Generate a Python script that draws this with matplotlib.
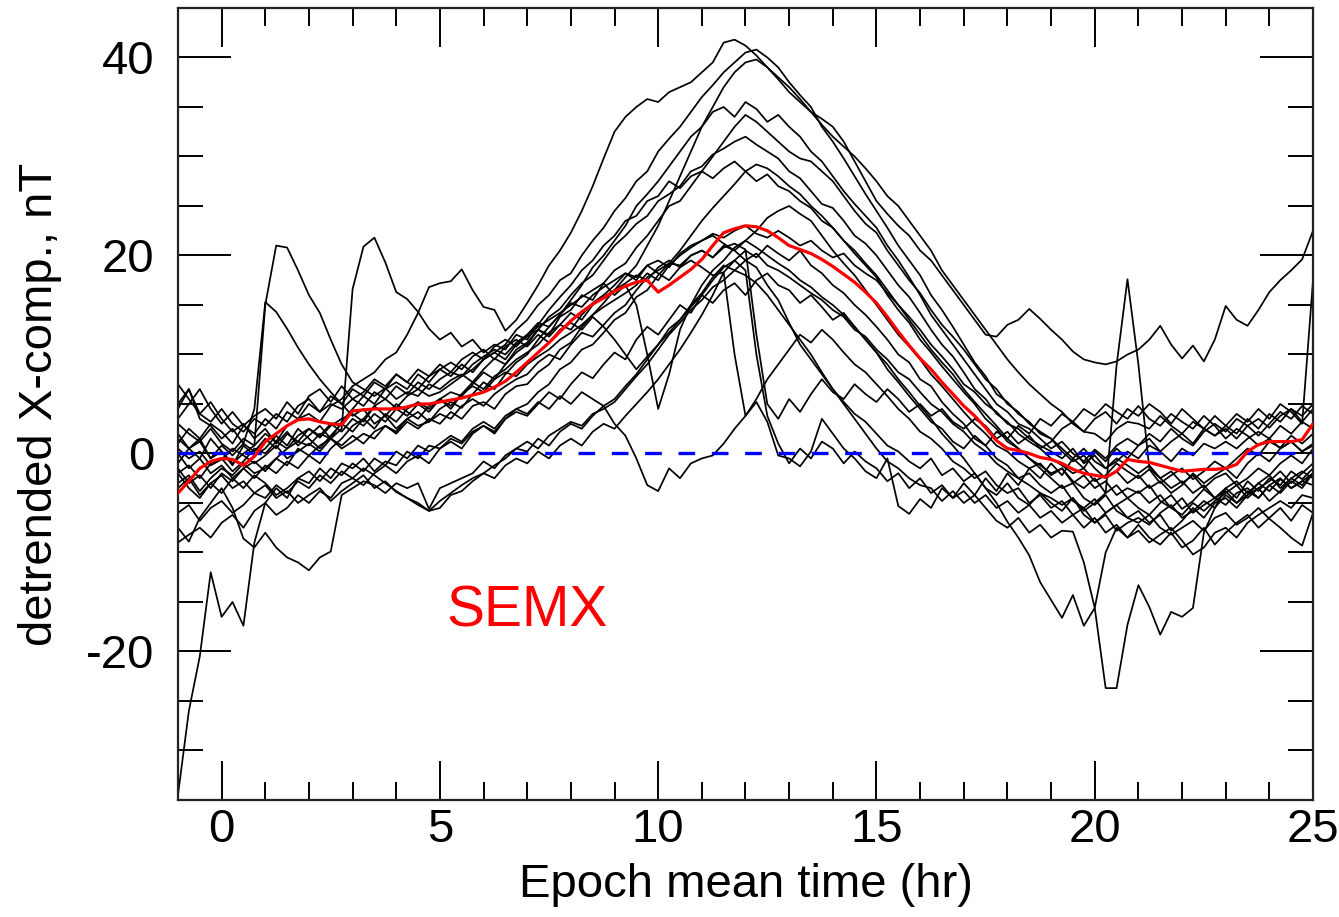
import numpy as np
import matplotlib.pyplot as plt

plt.rcParams['font.family'] = ['Liberation Sans', 'DejaVu Sans']
plt.rcParams['axes.unicode_minus'] = False

# epoch time grid, 0.25 hr steps from -1 to 25
hours = np.arange(105) * 0.25 - 1.0

# individual storm traces (nT), rows of 2 hours each
trace_01 = [-34.5, -26.0, -20.5, -12.0, -16.5, -15.0, -17.4, -9.0,
            -5.0, -3.5, -4.5, -2.5, -3.0, -1.5, -2.5, -1.0,
            -1.5, -0.5, -1.8, -0.8, -1.2, 0.2, -0.5, 0.8,
            0.5, 1.5, 1.0, 2.2, 2.8, 2.0, 3.5, 4.2,
            3.8, 5.0, 6.2, 5.5, 7.0, 8.2, 7.6, 9.0,
            10.2, 9.5, 11.5, 12.8, 12.0, 13.5, 15.0, 14.2,
            16.0, 17.5, 18.8, 19.5, 20.5, 19.8, 21.0, 20.2,
            19.5, 20.5, 19.0, 18.2, 17.0, 16.2, 15.0, 14.0,
            12.8, 11.5, 10.0, 9.2, 7.5, 6.8, 5.2, 4.0,
            3.0, 1.5, 0.8, -0.5, -1.2, -2.5, -2.0, -3.2,
            -4.0, -3.2, -4.8, -5.5, -4.6, -6.0, -5.2, -4.5,
            -5.5, -6.2, -5.0, -4.2, -5.6, -4.8, -3.6, -4.5,
            -3.8, -5.0, -4.2, -3.0, -3.8, -2.6, -3.5, -2.8,
            -3.2]
trace_02 = [1.5, 0.5, 1.2, -0.5, 0.2, -1.0, 0.0, 0.8,
            15.0, 21.0, 20.8, 18.5, 16.0, 14.2, 11.5, 9.0,
            7.2, 6.5, 5.8, 6.6, 5.5, 6.2, 5.8, 7.0,
            6.5, 7.4, 8.0, 7.2, 8.5, 9.6, 9.0, 10.5,
            11.2, 12.5, 13.8, 14.6, 16.0, 17.2, 18.0, 19.5,
            21.0, 22.0, 23.2, 24.0, 25.5, 26.2, 27.0, 28.5,
            29.0, 30.2, 30.8, 31.5, 32.0, 31.2, 30.5, 29.8,
            28.5, 27.8, 26.5, 25.2, 24.8, 23.5, 22.0, 21.2,
            20.0, 18.5, 17.0, 15.8, 14.2, 12.5, 11.0, 9.8,
            8.2, 6.5, 5.5, 4.0, 3.2, 2.0, 1.2, 0.5,
            -0.5, -1.2, -2.0, -1.5, -2.8, -2.2, -1.0, -1.8,
            -2.5, -1.6, -3.0, -2.2, -1.5, -2.6, -1.8, -0.8,
            -1.5, -0.5, 0.5, -0.2, 1.2, 0.6, 1.8, 1.0,
            2.0]
trace_03 = [4.5, 6.5, 3.5, 2.8, 1.5, 2.5, 1.0, 4.5,
            15.3, 14.3, 12.6, 10.7, 9.0, 7.5, 6.2, 5.0,
            3.8, 4.5, 3.0, 3.8, 2.5, 3.5, 4.2, 3.2,
            4.5, 5.2, 4.6, 6.0, 7.2, 6.5, 8.0, 9.2,
            10.0, 11.5, 12.8, 14.0, 15.5, 17.0, 18.8, 20.0,
            21.5, 23.0, 25.0, 26.2, 27.5, 29.0, 30.5, 32.0,
            33.0, 34.5, 35.0, 34.0, 35.5, 34.8, 33.5, 34.2,
            33.0, 32.0, 30.5, 29.5, 28.0, 26.5, 25.2, 24.0,
            22.8, 21.0, 19.5, 17.8, 16.0, 14.0, 12.5, 11.0,
            9.5, 8.0, 6.5, 5.0, 4.2, 3.0, 2.5, 1.5,
            0.5, 1.2, 0.0, -0.8, 0.4, -0.5, 0.8, 1.5,
            0.8, 2.0, 1.2, 2.5, 1.5, 0.8, 2.2, 3.0,
            2.2, 3.5, 2.8, 1.8, 3.0, 4.2, 3.5, 4.8,
            4.0]
trace_04 = [3.0, 2.0, 1.2, 2.5, 1.0, 0.2, 1.5, 0.8,
            2.0, 1.2, 2.8, 3.5, 4.0, 3.2, 4.8, 5.5,
            6.8, 7.5, 8.2, 9.5, 10.2, 12.0, 14.2, 16.8,
            17.2, 17.4, 18.6, 16.5, 14.8, 14.5, 12.4, 13.5,
            15.2, 17.0, 19.0, 20.5, 22.3, 24.5, 27.0, 29.8,
            32.5, 34.0, 35.0, 35.8, 35.5, 36.5, 37.0, 37.5,
            38.5, 39.5, 41.5, 41.8, 41.2, 40.2, 39.0, 37.8,
            36.5, 35.5, 34.5, 33.8, 33.0, 31.5, 29.5, 27.5,
            25.5, 24.2, 23.0, 22.0, 20.5, 19.5, 18.0, 16.5,
            15.0, 13.5, 12.0, 11.8, 13.0, 13.5, 14.6, 13.6,
            12.5, 11.5, 10.3, 9.5, 9.2, 9.0, 9.3, 10.0,
            10.5, 11.5, 12.9, 11.0, 9.6, 10.9, 9.3, 11.5,
            14.9, 13.5, 12.9, 14.5, 16.3, 17.5, 18.5, 19.6,
            22.5]
trace_05 = [-2.0, -1.2, -2.5, -1.0, -0.5, -1.8, -0.8, 0.5,
            0.0, 1.2, 0.5, 1.8, 2.5, 1.6, 2.8, 3.5,
            4.0, 3.2, 4.8, 5.5, 4.6, 5.8, 6.5, 5.8,
            6.2, 7.0, 7.8, 8.5, 9.5, 10.2, 11.0, 12.5,
            13.5, 15.0, 16.0, 17.5, 18.2, 20.0, 21.5, 22.8,
            24.5, 25.8, 27.5, 28.5, 30.5, 31.8, 33.0, 34.5,
            36.0, 37.2, 38.5, 39.5, 40.5, 40.8, 40.0, 39.0,
            37.5, 36.2, 35.0, 33.0, 31.5, 29.8, 28.0, 26.2,
            24.5, 22.8, 21.0, 19.5, 18.0, 16.0, 14.5, 12.8,
            11.0, 9.2, 7.8, 6.0, 5.2, 4.0, 3.2, 2.0,
            1.5, 0.2, -0.8, -0.2, -1.5, -2.5, -1.8, -3.0,
            -2.2, -3.5, -2.8, -4.0, -3.2, -2.0, -3.0, -2.2,
            -1.5, -2.5, -1.0, 0.0, -0.8, 0.5, 1.2, 0.2,
            1.0]
trace_06 = [0.5, -0.5, 0.2, -1.2, -0.6, 0.5, -0.2, -1.0,
            -0.2, 0.8, -0.5, 0.2, 1.0, 0.2, 1.5, 0.8,
            1.8, 1.0, 2.2, 2.8, 2.0, 3.2, 2.5, 3.5,
            3.0, 4.2, 3.5, 4.8, 5.2, 4.5, 6.0, 6.8,
            7.0, 8.2, 9.0, 10.5, 11.2, 12.8, 14.0, 15.2,
            16.5, 17.8, 19.0, 21.0, 23.0, 25.5, 28.0, 30.5,
            33.0, 35.0, 37.0, 38.5, 39.5, 39.8, 39.0, 38.0,
            37.0, 35.8, 34.5, 33.2, 32.0, 31.0, 30.0, 28.8,
            27.5, 26.0, 25.0, 23.5, 22.0, 20.5, 18.5, 17.0,
            15.5, 14.0, 12.5, 11.0, 9.5, 8.2, 7.0, 6.0,
            5.0, 4.2, 3.0, 2.2, 2.0, 1.2, 2.5, 3.2,
            3.0, 2.5, 3.8, 2.8, 2.0, 3.2, 2.5, 1.8,
            2.5, 1.5, 2.8, 3.5, 2.6, 3.8, 4.5, 3.2,
            4.5]
trace_07 = [-1.5, -3.0, -2.2, -3.5, -2.0, -2.8, -1.5, -2.5,
            -1.2, -2.0, -0.8, -1.5, -0.2, -1.0, 0.5, 1.5,
            2.8, 3.5, 2.5, 4.0, 3.2, 4.5, 5.2, 4.5,
            5.5, 6.2, 5.8, 7.0, 8.2, 7.5, 9.0, 10.2,
            11.0, 12.5, 12.0, 13.8, 14.5, 16.0, 15.5, 17.2,
            18.5, 19.2, 20.8, 22.0, 23.5, 25.0, 25.5, 27.0,
            28.5, 30.0, 31.5, 33.0, 34.2, 33.5, 32.5, 31.5,
            30.5, 29.8, 29.5, 28.5, 27.5, 26.0, 24.5, 23.2,
            22.3, 20.5, 19.0, 17.5, 16.2, 14.5, 13.0, 11.8,
            10.5, 9.0, 7.5, 6.5, 5.0, 4.2, 3.0, 2.2,
            1.5, 0.5, -0.5, 0.5, -0.8, -1.5, -0.5, -1.2,
            -2.0, -1.2, -2.5, -1.8, -3.0, -2.2, -3.5, -2.5,
            -2.0, -3.2, -2.5, -1.5, -2.2, -1.0, -0.2, -1.0,
            0.5]
trace_08 = [-9.0, -8.2, -7.5, -8.5, -7.0, -6.2, -7.5, -5.8,
            -5.0, -6.2, -5.5, -4.2, -5.0, -3.8, -4.5, -3.0,
            -2.5, -3.2, -2.0, -1.2, -2.0, -0.8, -0.2, -1.0,
            0.5, 1.2, 0.5, 2.0, 2.8, 2.2, 3.5, 4.5,
            5.0, 6.2, 7.0, 8.5, 9.2, 10.5, 11.0, 12.2,
            13.5, 14.2, 15.8, 16.5, 18.0, 19.2, 20.5, 22.0,
            23.5, 24.8, 26.0, 27.2, 28.5, 29.2, 28.8, 28.0,
            27.0, 26.2, 25.0, 24.0, 22.8, 21.5, 20.5, 19.2,
            18.0, 16.5, 15.0, 13.5, 12.0, 10.5, 9.2, 8.0,
            6.5, 5.2, 4.0, 2.8, 1.5, 0.5, -0.5, -1.5,
            -2.5, -3.5, -3.0, -4.5, -5.2, -4.2, -5.8, -6.5,
            -7.0, -6.2, -7.5, -8.2, -7.5, -6.8, -7.8, -6.5,
            -6.0, -7.2, -6.5, -5.5, -6.6, -7.5, -8.5, -9.3,
            -6.0]
trace_09 = [5.0, 6.5, 4.0, 3.2, 4.5, 3.0, 2.2, 3.5,
            2.8, 4.0, 3.2, 4.8, 5.5, 4.2, 5.0, 4.5,
            5.5, 4.8, 6.2, 5.5, 6.8, 6.0, 7.2, 6.5,
            7.5, 8.2, 7.8, 9.0, 9.8, 10.5, 10.0, 11.2,
            12.0, 13.2, 12.8, 14.0, 15.2, 14.8, 16.0, 16.8,
            17.5, 18.2, 17.8, 19.0, 19.5, 18.8, 20.2, 21.0,
            21.5, 22.2, 21.8, 22.5, 23.0, 22.2, 21.8, 22.5,
            21.8, 21.0, 21.5, 20.5, 19.8, 20.2, 19.0, 18.2,
            17.5, 16.2, 15.0, 13.8, 12.5, 11.0, 9.8, 8.5,
            7.0, 6.2, 5.0, 4.2, 3.0, 2.5, 1.5, 0.8,
            0.2, -0.5, 0.5, -1.0, -0.2, -1.5, -0.8, 0.2,
            -0.5, 0.8, 0.2, -0.8, 0.5, -0.2, 1.0, 0.5,
            1.2, 0.5, 1.5, 2.2, 1.5, 2.8, 2.0, 3.2,
            2.5]
trace_10 = [-3.0, -2.2, -3.8, -2.5, -1.5, -2.2, -1.0, -2.0,
            -1.5, -0.5, -1.2, 0.5, -0.2, 0.8, 1.5, 0.5,
            1.2, 2.0, 1.5, 2.8, 2.2, 3.5, 2.8, 3.2,
            4.0, 3.5, 4.8, 5.5, 4.8, 6.0, 6.8, 7.5,
            8.0, 9.2, 10.0, 9.5, 11.0, 12.2, 11.8, 13.0,
            14.2, 15.0, 16.5, 17.8, 18.5, 19.2, 19.0, 20.0,
            20.5, 19.8, 21.0, 20.5, 19.5, 20.2, 19.0, 18.5,
            17.8, 17.0, 16.2, 15.5, 14.5, 13.8, 12.5, 11.8,
            10.5, 9.5, 8.2, 7.5, 6.2, 5.0, 4.2, 3.0,
            2.2, 1.0, 0.2, -1.0, -1.8, -2.5, -3.2, -4.0,
            -4.5, -5.2, -4.5, -5.8, -5.0, -4.0, 8.9, 17.6,
            9.0, -1.5, -2.5, -3.5, -2.8, -4.0, -3.2, -4.5,
            -3.5, -2.8, -4.0, -3.0, -2.2, -3.5, -2.5, -1.8,
            -2.5]
trace_11 = [2.0, 0.5, 1.5, -0.5, 0.8, -0.2, 1.0, 0.2,
            1.5, 0.5, 2.0, 1.2, 2.5, 1.8, 3.0, 2.2,
            3.5, 2.8, 4.0, 3.2, 4.5, 3.8, 5.0, 4.2,
            5.5, 4.8, 6.0, 6.8, 6.2, 7.5, 8.2, 7.8,
            9.0, 9.8, 10.5, 11.5, 12.2, 13.0, 14.0, 14.8,
            15.5, 16.2, 17.0, 18.2, 17.5, 19.0, 20.0, 20.8,
            21.5, 22.0, 21.2, 20.5, 21.5, 20.8, 20.0, 19.2,
            18.5, 17.5, 16.8, 15.8, 15.0, 14.0, 12.8, 11.5,
            10.2, 9.0, 7.5, 6.2, 4.8, 3.5, 2.0, 0.8,
            -0.5, -2.0, -3.5, -5.0, -6.9, -8.5, -10.3, -13.0,
            -14.8, -16.6, -14.3, -17.4, -15.6, -23.7, -23.7, -17.3,
            -13.3, -15.5, -18.3, -16.0, -16.5, -15.6, -8.0, -5.5,
            -3.5, -4.5, -2.8, -3.8, -2.5, -3.2, -1.8, -2.6,
            -1.5]
trace_12 = [-6.0, -5.2, -6.8, -5.5, -4.8, -6.0, -5.2, -4.0,
            -4.5, -3.2, -4.0, -2.8, -3.5, -2.2, -3.0, -1.8,
            -2.5, -1.5, -2.2, -3.0, -3.8, -4.5, -5.2, -5.8,
            -4.8, -4.0, -3.2, -2.5, -2.0, -1.2, -0.5, 0.5,
            1.2, 0.5, 1.8, 2.5, 3.2, 2.8, 4.0, 4.5,
            5.2, 6.5, 7.8, 9.0, 10.5, 12.0, 13.2, 14.5,
            15.5, 16.8, 17.5, 18.5, 18.0, 17.2, 16.0, 14.5,
            13.0, 11.5, 10.0, 8.2, 6.5, 5.0, 3.5, 2.0,
            0.5, -0.8, -1.5, -2.5, -3.2, -3.5, -4.8, -3.8,
            -5.0, -4.2, -5.5, -6.8, -7.5, -6.5, -8.0, -7.2,
            -8.5, -7.8, -7.9, -11.0, -15.6, -10.0, -7.5, -8.5,
            -7.2, -8.5, -9.2, -8.0, -9.5, -8.8, -7.5, -9.2,
            -8.0, -7.0, -6.2, -7.5, -6.5, -5.5, -6.8, -5.2,
            -6.0]
trace_13 = [0.0, -1.5, -0.5, -2.0, -1.2, -2.5, -1.5, -0.8,
            -1.8, -0.5, 0.5, 1.2, 0.8, 2.0, 1.5, 2.5,
            16.6, 20.9, 21.8, 19.3, 16.3, 15.6, 14.3, 12.6,
            11.5, 12.2, 10.8, 11.5, 10.2, 11.0, 10.5, 12.0,
            11.5, 13.0, 14.5, 15.8, 17.0, 18.5, 19.5, 21.0,
            22.0, 23.5, 24.0, 25.5, 26.0, 27.5, 26.8, 28.0,
            28.5, 27.8, 28.8, 29.5, 28.5, 27.5, 28.2, 27.0,
            26.5, 25.5, 24.8, 23.5, 22.8, 21.5, 20.2, 19.0,
            17.8, 16.0, 14.5, 13.2, 11.5, 10.2, 8.8, 7.5,
            6.2, 5.0, 3.5, 2.5, 1.2, 0.5, -0.5, -1.2,
            -2.0, -1.5, -3.0, -2.2, -3.5, -2.8, -4.2, -3.5,
            -4.0, -3.2, -4.8, -5.5, -4.5, -6.0, -5.2, -4.5,
            -5.2, -4.0, -3.5, -4.5, -3.2, -4.0, -2.8, -3.5,
            -2.0]
trace_14 = [1.0, 2.5, 1.5, 3.0, 2.2, 1.0, 2.8, 2.0,
            3.5, 2.5, 4.2, 3.5, 5.0, 4.2, 5.8, 5.0,
            6.5, 5.8, 7.2, 6.5, 8.0, 7.2, 8.5, 7.8,
            9.0, 8.2, 9.5, 10.2, 9.5, 10.8, 11.5, 10.8,
            12.0, 12.8, 13.5, 14.2, 15.0, 15.8, 16.5, 17.2,
            16.0, 17.0, 15.0, 10.0, 4.5, 8.0, 12.5, 15.0,
            17.0, 18.5, 19.5, 20.8, 21.5, 22.5, 23.8, 24.5,
            25.0, 24.2, 23.5, 22.0, 20.5, 19.2, 18.0, 16.5,
            15.0, 13.5, 12.0, 10.8, 9.5, 8.0, 6.8, 5.5,
            4.2, 3.0, 2.0, 0.8, 0.2, -0.8, -1.5, -1.0,
            -2.2, -1.5, -2.8, -3.5, -2.5, -4.0, -3.2, -4.5,
            -3.8, -5.0, -4.2, -5.5, -6.2, -5.0, -5.8, -4.8,
            -4.0, -3.2, -4.5, -3.5, -2.8, -1.8, -3.0, -2.0,
            -1.0]
trace_15 = [-2.0, -3.5, -4.5, -3.0, -4.0, -2.5, -3.5, -2.2,
            -3.0, -4.2, -3.5, -2.5, -1.8, -2.8, -1.5, -2.2,
            -1.0, -1.8, -0.5, -1.2, 0.2, -0.5, 0.8, 0.2,
            1.0, 1.8, 1.2, 2.5, 3.2, 2.5, 3.8, 4.5,
            4.0, 5.2, 4.5, 5.8, 5.0, 6.2, 5.5, 4.8,
            3.0, 1.8, -0.5, -3.2, -3.8, -1.5, -2.5, -1.0,
            -0.5, -0.2, 1.0, 2.5, 3.8, 5.2, 3.2, -0.2,
            -0.5, -1.3, 0.2, 3.5, 2.0, 0.5, -0.5, -1.8,
            -2.5, -0.5, -5.3, -6.1, -4.6, -5.5, -3.5, -4.5,
            -3.0, -4.2, -2.5, -3.8, -2.0, -3.2, -1.5, -2.5,
            -1.0, -2.2, -0.5, -1.5, 0.2, -0.8, 0.5, -0.5,
            0.8, 1.5, 0.2, 1.2, 2.0, 1.0, 2.5, 1.8,
            2.8, 2.0, 3.5, 2.5, 4.0, 3.2, 4.5, 3.8,
            5.0]
trace_16 = [-7.5, -8.9, -6.5, -5.0, -3.5, -5.5, -8.6, -9.5,
            -8.0, -9.5, -10.5, -11.0, -11.8, -10.5, -9.9, -4.2,
            -3.5, -2.8, -3.2, -4.0, -3.0, -3.5, -3.0, -5.6,
            -3.5, -3.0, -2.5, -2.0, -0.8, -1.5, -0.2, 0.5,
            0.2, 1.5, 0.8, 2.2, 3.0, 2.5, 3.8, 4.8,
            5.5, 6.8, 8.0, 9.5, 11.0, 12.2, 13.5, 15.0,
            16.2, 17.8, 19.0, 18.5, 19.5, 18.8, 17.0, 15.5,
            13.2, 11.0, 9.5, 8.0, 6.5, 5.2, 4.0, 3.2,
            2.0, 0.8, 0.2, -0.8, -1.5, -0.5, -2.2, -1.5,
            -2.8, -2.0, -3.5, -4.2, -3.0, -4.5, -5.2, -4.0,
            -5.0, -5.8, -4.5, -6.2, -7.0, -6.0, -5.2, -6.5,
            -5.8, -7.0, -6.2, -7.8, -6.8, -5.5, -6.5, -5.0,
            -4.5, -5.5, -4.2, -3.5, -4.8, -3.8, -2.5, -3.2,
            -2.0]
trace_17 = [-3.5, -2.5, -4.2, -3.0, -2.2, -3.5, -2.8, -4.0,
            -3.2, -4.5, -3.8, -5.0, -4.2, -3.5, -4.8, -3.8,
            -3.0, -2.2, -3.5, -2.8, -3.9, -4.5, -5.0, -5.8,
            -5.5, -4.2, -3.8, -2.8, -2.0, -2.5, -1.2, -0.5,
            -1.0, 0.2, -0.5, 0.8, 1.5, 0.8, 2.2, 3.0,
            2.5, 3.8, 5.0, 6.2, 7.5, 9.0, 10.5, 12.2,
            14.0, 16.0, 18.3, 19.5, 18.5, 10.0, 3.8, 1.0,
            -1.0, 0.5, -0.5, 1.2, 0.5, -1.0, 0.2, -0.8,
            -1.5, -2.8, -2.0, -3.5, -2.5, -4.0, -3.2, -4.5,
            -3.8, -5.0, -4.2, -5.5, -4.8, -6.0, -5.2, -6.5,
            -5.8, -7.0, -6.2, -7.5, -6.5, -8.0, -7.2, -8.5,
            -7.8, -9.0, -8.2, -7.5, -8.8, -10.2, -9.5, -8.0,
            -7.5, -8.5, -7.0, -6.2, -5.5, -4.8, -5.5, -4.2,
            -4.5]
trace_18 = [3.5, 5.0, 6.5, 4.5, 3.0, 4.2, 2.8, 3.8,
            4.5, 3.5, 5.2, 4.0, 5.8, 6.5, 5.2, 6.8,
            5.5, 6.2, 7.5, 6.8, 8.0, 7.2, 6.5, 7.8,
            8.5, 7.8, 9.0, 8.2, 9.5, 10.2, 9.5, 11.0,
            11.8, 12.5, 11.8, 13.0, 14.2, 13.5, 15.0, 15.8,
            16.5, 17.2, 18.0, 17.5, 18.8, 19.5, 18.8, 20.0,
            20.5, 19.8, 20.8, 21.2, 20.6, 12.0, 5.0, 3.5,
            5.5, 4.2, 6.0, 7.5, 6.2, 5.5, 7.0, 6.0,
            5.2, 6.5, 5.5, 4.2, 5.0, 3.8, 4.5, 3.2,
            2.5, 3.5, 2.8, 1.5, 2.2, 1.0, 1.8, 0.5,
            1.2, 2.5, 3.2, 2.2, 3.5, 4.2, 3.0, 4.5,
            3.8, 5.0, 4.2, 3.0, 4.5, 3.5, 2.5, 3.8,
            2.8, 4.0, 3.2, 4.5, 3.5, 5.0, 4.2, 3.0,
            17.5]
trace_19 = [-1.0, 0.5, -0.5, 1.5, 0.2, -1.2, 0.8, -0.2,
            0.5, 1.8, 0.8, 2.5, 1.5, 0.5, 1.8, 3.0,
            2.2, 3.5, 4.8, 3.8, 5.0, 4.2, 3.5, 4.8,
            5.5, 4.5, 6.0, 7.2, 6.5, 7.8, 8.5, 9.5,
            10.2, 11.0, 12.2, 13.0, 12.5, 14.0, 15.2, 16.0,
            17.0, 18.2, 17.5, 19.0, 18.2, 17.5, 18.8, 19.5,
            18.8, 18.0, 18.3, 10.0, 3.8, 5.5, 7.5, 9.0,
            10.5, 12.0, 11.2, 12.5, 11.5, 10.2, 9.0, 8.2,
            7.0, 5.8, 4.5, 3.5, 2.2, 1.5, 0.5, -0.8,
            -1.5, -2.5, -1.8, -3.2, -4.0, -3.5, -5.0, -4.2,
            -5.5, -4.8, -6.2, -5.5, -7.0, -6.2, -7.8, -7.0,
            -6.5, -7.2, -6.0, -5.2, -6.5, -5.8, -4.8, -5.5,
            -4.2, -5.0, -3.8, -4.5, -3.2, -2.5, -3.5, -2.8,
            -2.0]
trace_20 = [7.0, 5.5, 4.0, 5.2, 3.5, 2.2, 3.0, 1.5,
            2.5, 1.0, 2.2, 0.8, 1.8, 2.8, 1.5, 3.2,
            4.5, 5.8, 5.0, 6.5, 7.2, 6.5, 8.0, 7.2,
            8.5, 9.2, 8.5, 9.8, 10.5, 9.5, 10.8, 11.5,
            10.8, 12.0, 11.2, 12.5, 13.2, 12.5, 13.8, 12.8,
            11.5, 10.0, 8.5, 9.8, 11.0, 12.6, 13.5, 14.8,
            16.0, 15.2, 16.5, 17.2, 16.0, 17.5, 18.2, 17.0,
            16.5, 15.2, 16.0, 14.8, 13.5, 14.2, 12.8, 11.5,
            10.2, 8.5, 7.2, 5.8, 4.5, 3.2, 2.5, 1.2,
            0.5, 1.8, 0.8, 2.2, 1.5, 2.8, 2.0, 3.5,
            2.8, 4.0, 3.2, 4.5, 3.8, 5.0, 4.2, 3.5,
            4.8, 3.5, 2.8, 4.0, 3.2, 2.5, 3.8, 2.8,
            1.5, 2.5, 1.8, 0.8, 1.5, 0.5, 1.2, 0.2,
            0.8]

# superposed epoch mean (red curve)
mean_trace = [-4.0, -2.8, -1.5, -0.8, -0.5, -0.6, -1.2, -0.3,
              1.2, 2.0, 2.8, 3.4, 3.5, 3.2, 3.0, 2.9,
              4.3, 4.4, 4.5, 4.5, 4.5, 4.7, 5.0, 5.0,
              5.2, 5.4, 5.6, 5.9, 6.2, 6.7, 7.3, 8.2,
              9.2, 10.2, 11.2, 12.3, 13.4, 14.3, 15.1, 15.7,
              16.4, 16.9, 17.3, 17.5, 16.3, 17.0, 17.8, 18.6,
              19.6, 21.0, 22.3, 22.7, 23.0, 22.9, 22.5, 21.8,
              21.0, 20.6, 20.2, 19.6, 18.9, 18.1, 17.3, 16.3,
              15.2, 13.8, 12.3, 10.9, 9.6, 8.5, 7.2, 6.0,
              4.8, 3.8, 2.6, 1.3, 0.5, 0.3, 0.0, -0.4,
              -0.6, -1.0, -1.6, -2.0, -2.2, -2.4, -1.8, -0.6,
              -0.8, -0.9, -1.2, -1.5, -1.8, -1.7, -1.6, -1.6,
              -1.5, -1.1, 0.2, 0.9, 1.2, 1.2, 1.2, 1.4,
              3.0]

traces = [trace_01, trace_02, trace_03, trace_04, trace_05, trace_06, trace_07,
          trace_08, trace_09, trace_10, trace_11, trace_12, trace_13, trace_14,
          trace_15, trace_16, trace_17, trace_18, trace_19, trace_20]

x_ticks = [0, 5, 10, 15, 20, 25]
y_ticks = [-20, 0, 20, 40]


fig = plt.figure(figsize=(13.39, 9.17), dpi=100)
ax = fig.add_axes([0.1329, 0.1276, 0.8477, 0.8637])

for tr in traces:
    ax.plot(hours[:len(tr)], tr, color='black', linewidth=1.25, zorder=2)

ax.axhline(0, color='#0000ff', linewidth=2.4, linestyle=(0, (5.0, 5.0)), zorder=3)
ax.plot(hours[:len(mean_trace)], mean_trace, color='#ff0000', linewidth=2.3, zorder=4)

ax.text(7.0, -16.0, 'SEMX', color='#ff0000', fontsize=41, ha='center', va='center')

ax.set_xlim(-1, 25)
ax.set_ylim(-35, 45)
ax.set_xticks(x_ticks)
ax.set_xticks(np.arange(-1, 26), minor=True)
ax.set_yticks(y_ticks)
ax.set_yticks(np.arange(-35, 46, 5), minor=True)

ax.tick_params(axis='x', which='major', direction='in', length=28, width=1.4,
               top=True, bottom=True, labelsize=34, pad=6)
ax.tick_params(axis='x', which='minor', direction='in', length=13, width=1.4,
               top=True, bottom=True)
ax.tick_params(axis='y', which='major', direction='in', length=38, width=1.4,
               left=True, right=True, labelsize=34, pad=17)
ax.tick_params(axis='y', which='minor', direction='in', length=18, width=1.4,
               left=True, right=True)

for sp in ax.spines.values():
    sp.set_linewidth(1.6)
    sp.set_color('#222222')

ax.set_xlabel('Epoch mean time (hr)', fontsize=34, labelpad=8)
ax.set_ylabel('detrended X-comp., nT', fontsize=34, labelpad=17)

fig.savefig('out.png', dpi=100)
